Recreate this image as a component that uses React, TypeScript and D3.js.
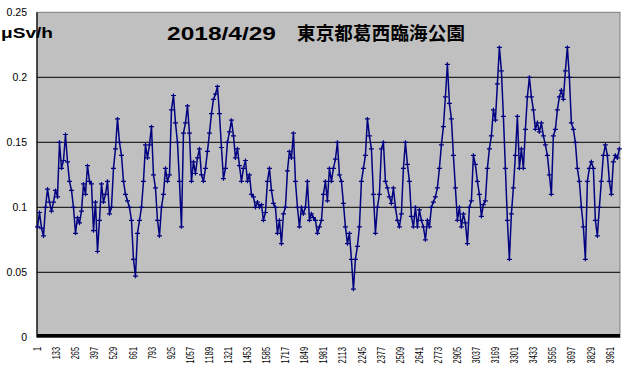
import React from "react";
import * as d3 from "d3";

// Dose rate readings (μSv/h), sampled across the day in order
const valuesPart1 = [
  0.085, 0.096, 0.084, 0.078, 0.1, 0.114, 0.104, 0.097, 0.104, 0.113, 0.108, 0.15, 0.13, 0.136, 0.156, 0.135,
  0.12, 0.113, 0.1, 0.08, 0.092, 0.088, 0.097, 0.118, 0.11, 0.132, 0.12, 0.118, 0.082, 0.104, 0.066, 0.09,
  0.118, 0.104, 0.11, 0.12, 0.095, 0.1, 0.13, 0.145, 0.168, 0.15, 0.14, 0.12, 0.11, 0.105, 0.1, 0.09,
  0.06, 0.047, 0.08, 0.09, 0.1, 0.12, 0.148, 0.138, 0.148, 0.162, 0.125, 0.115, 0.09, 0.078, 0.1, 0.11,
  0.13, 0.12, 0.125, 0.175, 0.186, 0.165, 0.15, 0.12, 0.085, 0.157,
];
const valuesPart2 = [
  0.165, 0.178, 0.157, 0.12, 0.135, 0.126, 0.138, 0.145, 0.125, 0.12, 0.13, 0.143, 0.157, 0.172, 0.183, 0.187,
  0.193, 0.172, 0.146, 0.122, 0.13, 0.15, 0.158, 0.167, 0.155, 0.138, 0.145, 0.132, 0.12, 0.13, 0.136, 0.12,
  0.125, 0.11, 0.108, 0.1, 0.104, 0.1, 0.102, 0.09, 0.096, 0.12, 0.13, 0.113, 0.103, 0.1, 0.08, 0.09,
  0.072, 0.095, 0.1, 0.128, 0.143, 0.138, 0.157, 0.12, 0.1, 0.085, 0.1, 0.095, 0.1, 0.12, 0.09, 0.095,
  0.092, 0.09, 0.08, 0.085, 0.09, 0.11, 0.12, 0.105, 0.13,
];
const valuesPart3 = [
  0.12, 0.13, 0.137, 0.15, 0.125, 0.12, 0.103, 0.085, 0.072, 0.08, 0.06, 0.037, 0.06, 0.07, 0.085, 0.12,
  0.13, 0.14, 0.168, 0.155, 0.145, 0.11, 0.08, 0.1, 0.11, 0.145, 0.15, 0.12, 0.115, 0.108, 0.103, 0.115,
  0.1, 0.09, 0.085, 0.095, 0.13, 0.15, 0.133, 0.12, 0.093, 0.085, 0.1, 0.085, 0.098, 0.09, 0.085, 0.075,
  0.09, 0.085, 0.1, 0.104, 0.108, 0.115, 0.13, 0.148, 0.162, 0.185, 0.21, 0.18, 0.168, 0.14, 0.115, 0.09,
  0.1, 0.085, 0.095, 0.088, 0.072, 0.1, 0.105, 0.14, 0.133,
];
const valuesPart4 = [
  0.12, 0.11, 0.093, 0.102, 0.105, 0.13, 0.145, 0.155, 0.175, 0.167, 0.195, 0.223, 0.205, 0.17, 0.13, 0.09,
  0.06, 0.095, 0.115, 0.14, 0.17, 0.13, 0.145, 0.13, 0.16, 0.185, 0.2, 0.185, 0.175, 0.16, 0.165, 0.158,
  0.165, 0.155, 0.148, 0.14, 0.125, 0.11, 0.155, 0.16, 0.175, 0.185, 0.19, 0.183, 0.205, 0.223, 0.2, 0.165,
  0.16, 0.15, 0.13, 0.12, 0.1, 0.085, 0.06, 0.12, 0.13, 0.135, 0.13, 0.09, 0.078, 0.1, 0.12, 0.14,
  0.148, 0.14, 0.12, 0.11, 0.135, 0.14, 0.138, 0.145,
];

const TOTAL_COUNT = 4032;
const SAMPLE_STEP = 13.83;
const xTickLabels = [
  1, 133, 265, 397, 529, 661, 793, 925, 1057, 1189, 1321, 1453, 1585, 1717, 1849, 1981, 2113, 2245, 2377,
  2509, 2641, 2773, 2905, 3037, 3169, 3301, 3433, 3565, 3697, 3829, 3961,
];
const yTicks = [0, 0.05, 0.1, 0.15, 0.2, 0.25];
const yTickLabels = ["0", "0.05", "0.1", "0.15", "0.2", "0.25"];
const titleDate = "2018/4/29";
const titlePlace = "東京都葛西臨海公園";
const unitLabel = "μSv/h";

export default function App() {
  const W = 625;
  const H = 379;
  const left = 37;
  const right = 620;
  const top = 12.3;
  const bottom = 337.3;

  const values = [...valuesPart1, ...valuesPart2, ...valuesPart3, ...valuesPart4];
  const data = values.map((v, k) => ({ i: 1 + k * SAMPLE_STEP, v }));

  const x = d3.scaleLinear().domain([1, TOTAL_COUNT]).range([37.5, 620.3]);
  const y = d3.scaleLinear().domain([0, 0.25]).range([bottom, top]);

  const line = d3
    .line<{ i: number; v: number }>()
    .x((d) => x(d.i))
    .y((d) => y(d.v));

  const markerPath = data
    .map((d) => {
      const px = x(d.i);
      const py = y(d.v);
      return `M${px - 2.5},${py}H${px + 2.5}M${px},${py - 2}V${py + 2}`;
    })
    .join("");

  const font = "'Liberation Sans', Arial, sans-serif";

  return (
    <svg
      width={W}
      height={H}
      style={{ position: "absolute", left: 0, top: 0, background: "#fff" }}
      fontFamily={font}
    >
      <rect x={left} y={top} width={right - left} height={bottom - top} fill="#c0c0c0" stroke="#808080" strokeWidth={1} />
      {yTicks.slice(1, -1).map((t) => (
        <line key={t} x1={left} x2={right} y1={y(t)} y2={y(t)} stroke="#000" strokeWidth={1} />
      ))}
      <line x1={left} x2={left} y1={top} y2={bottom} stroke="#000" strokeWidth={1.2} />
      <line x1={left} x2={right} y1={bottom - 1.5} y2={bottom - 1.5} stroke="#000" strokeWidth={3.5} />

      <path d={line(data) || ""} fill="none" stroke="#000080" strokeWidth={1.5} />
      <path d={markerPath} fill="none" stroke="#000080" strokeWidth={1.2} />

      {yTicks.map((t, idx) => (
        <text key={t} x={27} y={y(t)} dy="0.35em" textAnchor="end" fontSize={10.5} fill="#000">
          {yTickLabels[idx]}
        </text>
      ))}

      {xTickLabels.map((t) => {
        const s = String(t);
        return (
          <text
            key={t}
            transform={`translate(${x(t) + 3.6},347) rotate(-90)`}
            textAnchor="end"
            fontSize={11}
            fill="#000"
            textLength={s.length * 4.1}
            lengthAdjust="spacingAndGlyphs"
          >
            {s}
          </text>
        );
      })}

      <text x={1} y={38} fontSize={15} fontWeight="bold" fill="#000" textLength={52} lengthAdjust="spacingAndGlyphs">
        {unitLabel}
      </text>

      <text x={167} y={40} fontSize={19} fontWeight="bold" fill="#000" textLength={109} lengthAdjust="spacingAndGlyphs">
        {titleDate}
      </text>
      <text
        x={297}
        y={40}
        fontSize={18.5}
        fontWeight="bold"
        fill="#000"
        fontFamily="'Noto Sans CJK JP', sans-serif"
        textLength={168}
        lengthAdjust="spacing"
      >
        {titlePlace}
      </text>
    </svg>
  );
}
